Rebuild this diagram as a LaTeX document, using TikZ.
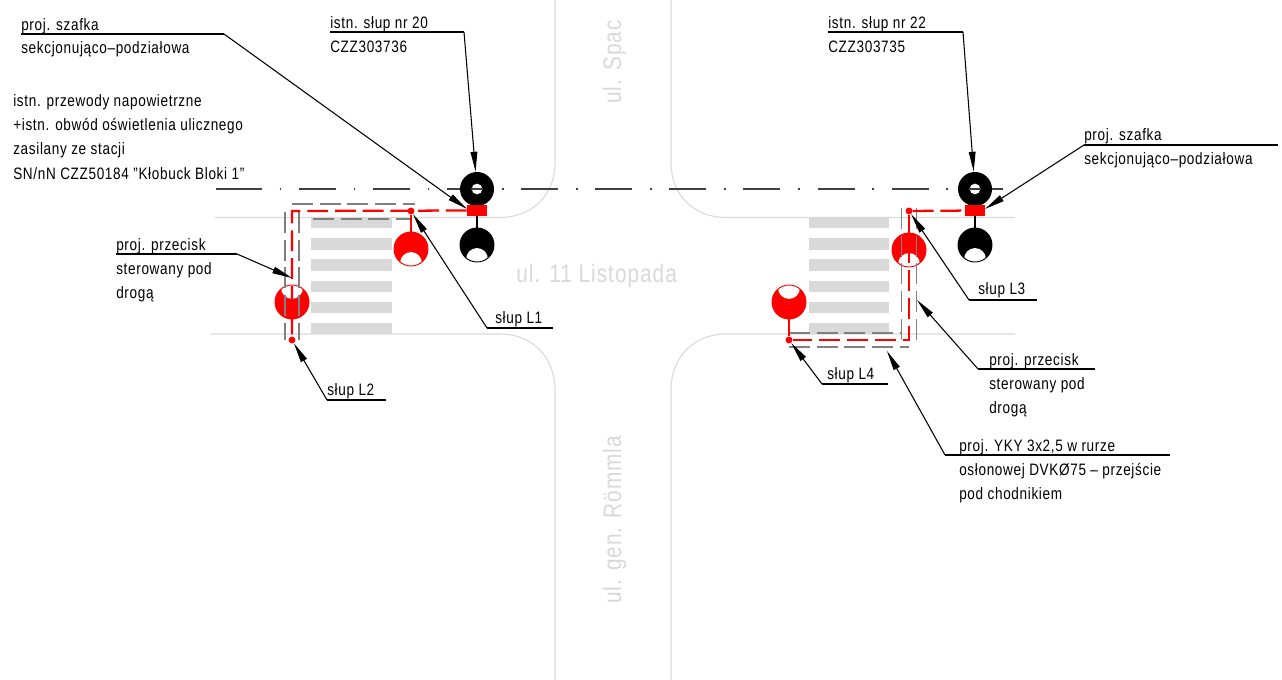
\documentclass[tikz,border=0pt]{standalone}
\usepackage{fontspec}
\setmainfont[FakeStretch=0.82,LetterSpace=4]{Liberation Sans}
\usetikzlibrary{arrows.meta}
\definecolor{road}{HTML}{D9D9D9}
\definecolor{cad}{HTML}{FF0000}
\definecolor{gline}{HTML}{808080}
\tikzset{
 x=0.75pt,y=-0.75pt,
 lbl/.style={anchor=base west,inner sep=0pt,font=\fontsize{12.4}{14}\selectfont,text=black},
 streetname/.style={inner sep=0pt,text=road,font=\fontsize{19}{22}\selectfont},
 roadedge/.style={draw=road,line width=0.8pt},
 stripe/.style={fill=road},
 aerial/.style={draw=black!75,line width=1.1pt},
 cable/.style={draw=cad,line width=1.7pt,dash pattern=on 15.6pt off 5.2pt},
 guard/.style={draw=gline,line width=0.9pt,dash pattern=on 15.6pt off 5.2pt},
 leader/.style={draw=black,line width=0.8pt},
 arrowed/.style={leader,-{Triangle[length=15pt,width=5pt]}},
 lamp/.style={circle,minimum size=25.5pt,inner sep=0pt},
 dotnode/.style={circle,fill=cad,minimum size=5.2pt,inner sep=0pt},
 cabinet/.style={rectangle,fill=cad,minimum width=15pt,minimum height=8.2pt,inner sep=0pt},
}
\newcommand{\domed}[5]{% name, x, y, dome dy, colour
 \node[lamp,fill=#5] (#1) at (#2,#3) {};
 \begin{scope}
  \clip (#2,#3) circle (12.75pt);
  \fill[white] (#2,#3+#4) circle (8.2pt);
 \end{scope}
 \draw[#5,line width=0.7pt] (#2,#3) circle (12.75pt);
}
\begin{document}
\begin{tikzpicture}
\useasboundingbox (0,0) rectangle (1282,680);
\fill[white] (0,0) rectangle (1282,680);
% road edges
\draw[roadedge] (555,0) -- (555,163) .. controls (555,195) and (532,217.5) .. (500,217.5) -- (215,217.5);
\draw[roadedge] (210,334) -- (500,334) .. controls (532,334) and (555,357) .. (555,390) -- (555,680);
\draw[roadedge] (671,0) -- (671,163) .. controls (671,195) and (694,217.5) .. (726,217.5) -- (1015,217.5);
\draw[roadedge] (1015,334) -- (726,334) .. controls (694,334) and (671,357) .. (671,390) -- (671,680);
% zebra crossings
\foreach \a/\b in {217/228,238/250,259/271,281/292,302/313,323/334}{
 \fill[stripe] (311,\a) rectangle (392,\b);
 \fill[stripe] (809,\a) rectangle (889,\b);
}
% street names
\node[streetname,anchor=base west] (ulA) at (516,283) {ul. 11 Listopada};
\node[streetname,anchor=base west,rotate=90] (ulB) at (621,604) {ul. gen. Römmla};
\node[streetname,anchor=base west,rotate=90] (ulC) at (621,104) {ul. Spac};
% aerial line
\draw[aerial] (216,189) -- (226,189);
\draw[aerial,dash pattern=on 27.75pt off 13.3pt on 1.2pt off 13.3pt] (225,189) -- (1010,189);
% poles
\coordinate (pA) at (477,189);
\coordinate (pB) at (975,189);
\draw[black,line width=1pt] (477,189) -- (477,245);
\draw[black,line width=1pt] (975,189) -- (975,245);
\node[lamp,fill=black] (s20) at (477,189) {};
\node[circle,fill=white,minimum size=8pt,inner sep=0pt] (s20h) at (477,189) {};
\node[lamp,fill=black] (s22) at (975,189) {};
\node[circle,fill=white,minimum size=8pt,inner sep=0pt] (s22h) at (975,189) {};
\draw[aerial] (471,189) -- (483,189) (969,189) -- (981,189);
\domed{s20b}{477}{245}{14}{black}
\domed{s22b}{975}{245}{14}{black}
% red lamps
\domed{L1}{411}{249}{14}{cad}
\domed{L2}{292}{302}{-14}{cad}
\domed{L3}{909}{250}{14}{cad}
\domed{L4}{789}{302}{-14}{cad}
% guard pipes
\draw[guard] (292,204) -- (415,204);
\draw[guard] (313,219) -- (410,219);
\draw[guard] (285,212) -- (285,340);
\draw[guard] (299,212) -- (299,340);
\draw[guard] (901.5,208) -- (901.5,340);
\draw[guard] (916.5,208) -- (916.5,340);
\draw[guard] (789,333) -- (901,333);
\draw[guard] (789,347) -- (909,347);
% cabinets and dots
\node[cabinet] (cabA) at (477,210.5) {};
\node[cabinet] (cabB) at (975,210.5) {};
\node[dotnode] (dL1) at (411,211) {};
\node[dotnode] (dL2) at (292,340) {};
\node[dotnode] (dL3) at (909,211) {};
\node[dotnode] (dL4) at (789,340) {};
% red connections
\draw[cad,line width=1pt] (dL1) -- (L1);
\draw[cad,line width=1pt] (dL4) -- (L4);
\draw[cable] (cabA) -- (292,211) -- (dL2);
\draw[cable] (dL3) -- (cabB);
\draw[cable] (dL3) -- (909,340) -- (dL4);
% labels
\node[lbl] (t1a) at (21,31) {proj. szafka};
\node[lbl] (t1b) at (21,54) {sekcjonująco–podziałowa};
\node[lbl] (t2a) at (330,29) {istn. słup nr 20};
\node[lbl] (t2b) at (330,53) {CZZ303736};
\node[lbl] (t3a) at (828,29) {istn. słup nr 22};
\node[lbl] (t3b) at (828,53) {CZZ303735};
\node[lbl] (t4a) at (13,107) {istn. przewody napowietrzne};
\node[lbl] (t4b) at (13,131) {+istn. obwód oświetlenia ulicznego};
\node[lbl] (t4c) at (13,155) {zasilany ze stacji};
\node[lbl] (t4d) at (13,180) {SN/nN CZZ50184 "Kłobuck Bloki 1"};
\node[lbl] (t5a) at (1084,141) {proj. szafka};
\node[lbl] (t5b) at (1084,165) {sekcjonująco–podziałowa};
\node[lbl] (t6a) at (116,251) {proj. przecisk};
\node[lbl] (t6b) at (116,275) {sterowany pod};
\node[lbl] (t6c) at (116,299) {drogą};
\node[lbl] (t7) at (495,324) {słup L1};
\node[lbl] (t8) at (327,396) {słup L2};
\node[lbl] (t9) at (978,295) {słup L3};
\node[lbl] (t10) at (827,380) {słup L4};
\node[lbl] (t11a) at (989,366) {proj. przecisk};
\node[lbl] (t11b) at (989,390) {sterowany pod};
\node[lbl] (t11c) at (989,414) {drogą};
\node[lbl] (t12a) at (959,452) {proj. YKY 3x2,5 w rurze};
\node[lbl] (t12b) at (959,476) {osłonowej DVKØ75 – przejście};
\node[lbl] (t12c) at (959,500) {pod chodnikiem};
% leaders
\coordinate (e1) at (21,34); \coordinate (k1) at (224,34);
\coordinate (e2) at (330,32); \coordinate (k2) at (464,32);
\coordinate (e3) at (828,32); \coordinate (k3) at (963,32);
\coordinate (e5) at (1278,145); \coordinate (k5) at (1084,145);
\coordinate (e6) at (116,254); \coordinate (k6) at (237,254);
\coordinate (a6) at (292,278);
\coordinate (e7) at (553,328); \coordinate (k7) at (487,328);
\coordinate (e8) at (386,400); \coordinate (k8) at (327,400);
\coordinate (e9) at (1037,300); \coordinate (k9) at (969,300);
\coordinate (e10) at (888,384); \coordinate (k10) at (822,384);
\coordinate (e11) at (1095,369); \coordinate (k11) at (978,369);
\coordinate (a11) at (917,300);
\coordinate (e12) at (1170,455); \coordinate (k12) at (945,455);
\coordinate (a12) at (887,351);
\coordinate (a1) at (467,209);
\coordinate (a5) at (985,209);
\draw[leader] (e1) -- (k1); \draw[arrowed] (k1) -- (a1);
\draw[leader] (e2) -- (k2); \draw[arrowed] (k2) -- (s20);
\draw[leader] (e3) -- (k3); \draw[arrowed] (k3) -- (s22);
\draw[leader] (e5) -- (k5); \draw[arrowed] (k5) -- (a5);
\draw[leader] (e6) -- (k6); \draw[arrowed] (k6) -- (a6);
\draw[leader] (e7) -- (k7); \draw[arrowed] (k7) -- (dL1);
\draw[leader] (e8) -- (k8); \draw[arrowed] (k8) -- (dL2);
\draw[leader] (e9) -- (k9); \draw[arrowed] (k9) -- (dL3);
\draw[leader] (e10) -- (k10); \draw[arrowed] (k10) -- (dL4);
\draw[leader] (e11) -- (k11); \draw[arrowed] (k11) -- (a11);
\draw[leader] (e12) -- (k12); \draw[arrowed] (k12) -- (a12);
\end{tikzpicture}
\end{document}
